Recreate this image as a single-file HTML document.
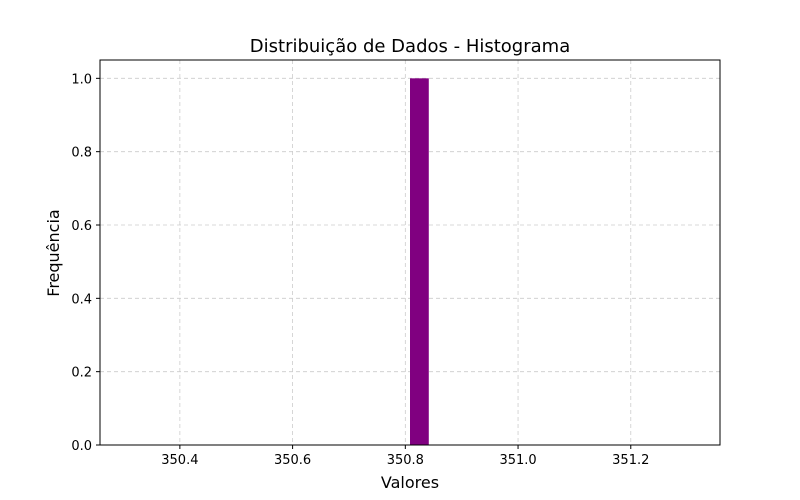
<!DOCTYPE html>
<html><head><meta charset="utf-8"><style>
body{margin:0;background:#fff;}
svg{display:block;font-family:"DejaVu Sans","Liberation Sans",sans-serif;}
</style></head><body>
<svg id="chart" width="800" height="500">
<rect width="800" height="500" fill="#fff"/>
<text x="410" y="52" text-anchor="middle" font-size="18">Distribuição de Dados - Histograma</text>
<text x="410" y="488" text-anchor="middle" font-size="16">Valores</text>
<text transform="translate(59,253) rotate(-90)" text-anchor="middle" font-size="16">Frequência</text>
<g id="grid"></g><g id="bars"></g><g id="axes"></g>
</svg>
<script>
const values = [350.8083];
const binCount = 30;
const xTicks = [350.4, 350.6, 350.8, 351.0, 351.2];
const xTickLabels = ["350.4", "350.6", "350.8", "351.0", "351.2"];
const yTicks = [0, 0.2, 0.4, 0.6, 0.8, 1.0];
const yTickLabels = ["0.0", "0.2", "0.4", "0.6", "0.8", "1.0"];

const L=100,R=720,T=60,B=445;
const NS="http://www.w3.org/2000/svg";
let mn=Math.min(...values),mx=Math.max(...values);
if(mn===mx){mn-=0.5;mx+=0.5;}
const edges=[];for(let i=0;i<=binCount;i++)edges.push(mn+(mx-mn)*i/binCount);
const counts=new Array(binCount).fill(0);
values.forEach(v=>{let k=Math.floor((v-mn)/(mx-mn)*binCount);if(k>=binCount)k=binCount-1;if(k<0)k=0;counts[k]++;});
const pad=(mx-mn)*0.05;
const x0=mn-pad,x1=mx+pad;
const ymax=Math.max(...counts)*1.05;
const sx=v=>L+(v-x0)/(x1-x0)*(R-L);
const sy=v=>B-v/ymax*(B-T);
function mk(tag,attrs,parent){const e=document.createElementNS(NS,tag);for(const k in attrs)e.setAttribute(k,attrs[k]);parent.appendChild(e);return e;}
const grid=document.getElementById('grid'),bars=document.getElementById('bars'),axes=document.getElementById('axes');
xTicks.forEach((t,i)=>{
 const x=sx(t);
 const g=mk('line',{x1:x,x2:x,y1:T,y2:B,stroke:'#cccccc','stroke-dasharray':'4,3','stroke-width':0.8},grid);
 
 
 const tk=mk('line',{x1:x,x2:x,y1:B,y2:B+4,stroke:'#000'},axes);
 
 
 const tx=mk('text',{x:x,y:B+19,'text-anchor':'middle','font-size':13},axes);
 tx.textContent=xTickLabels[i];
 
 
});
yTicks.forEach((t,i)=>{
 const y=sy(t);
 const g=mk('line',{x1:L,x2:R,y1:y,y2:y,stroke:'#cccccc','stroke-dasharray':'4,3','stroke-width':0.8},grid);
 
 
 const tk=mk('line',{x1:L-4,x2:L,y1:y,y2:y,stroke:'#000'},axes);
 
 
 const tx=mk('text',{x:L-8,y:y+5,'text-anchor':'end','font-size':13},axes);
 tx.textContent=yTickLabels[i];
 
 
});
counts.forEach((c,i)=>{
 if(c<=0)return;
 const r=mk('rect',{x:sx(edges[i]),y:sy(c),width:sx(edges[i+1])-sx(edges[i]),height:sy(0)-sy(c),fill:'#800080'},bars);
 
 
});
const frame=mk('rect',{x:L,y:T,width:R-L,height:B-T,fill:'none',stroke:'#000','stroke-width':1},axes);


</script>
</body></html>
